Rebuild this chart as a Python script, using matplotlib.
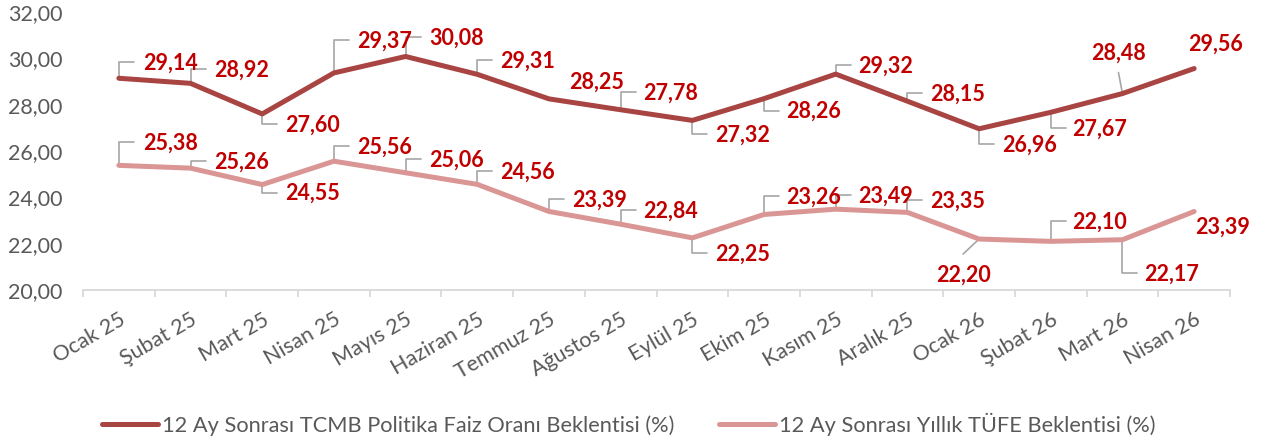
import matplotlib
matplotlib.use('Agg')
import matplotlib.pyplot as plt
from matplotlib.ticker import FuncFormatter, FixedLocator

# ---------------- data ----------------
categories = ["Ocak 25", "Şubat 25", "Mart 25", "Nisan 25", "Mayıs 25", "Haziran 25",
              "Temmuz 25", "Ağustos 25", "Eylül 25", "Ekim 25", "Kasım 25", "Aralık 25",
              "Ocak 26", "Şubat 26", "Mart 26", "Nisan 26"]
tcmb = [29.14, 28.92, 27.60, 29.37, 30.08, 29.31, 28.25, 27.78, 27.32, 28.26, 29.32,
        28.15, 26.96, 27.67, 28.48, 29.56]
tufe = [25.38, 25.26, 24.55, 25.56, 25.06, 24.56, 23.39, 22.84, 22.25, 23.26, 23.49,
        23.35, 22.20, 22.10, 22.17, 23.39]
series_names = ["12 Ay Sonrası TCMB Politika Faiz Oranı Beklentisi (%)",
                "12 Ay Sonrası Yıllık TÜFE Beklentisi (%)"]
y_ticks = [20, 22, 24, 26, 28, 30, 32]

# label placement (pixels: dx right, dy down from the point) and leader style
tcmb_labels = [(52, -16, 'up'), (51, -14, 'up'), (50, 10, 'down'), (51, -33, 'up'),
               (51, -19, 'up'), (50, -14, 'up'), (48, -18, 'none'), (50, -18, 'up'),
               (50, 14, 'down'), (50, 12, 'down'), (50, -9, 'up'), (50, -8, 'up'),
               (50, 15, 'down'), (49, 16, 'down'), (-4, -41, 'slant'), (21, -25, 'none')]
tufe_labels = [(52, -23, 'up'), (51, -7, 'up'), (50, 8, 'down'), (51, -15, 'up'),
               (51, -14, 'up'), (50, -13, 'up'), (51, -12, 'up'), (50, -14, 'up'),
               (50, 15, 'down'), (50, -18, 'up'), (50, -14, 'up'), (50, -12, 'up'),
               (-16, 35, 'slant'), (49, -20, 'up'), (49, 33, 'down'), (28, 15, 'none')]

# ---------------- style ----------------
W, H = 1269, 443
C_TCMB = '#A84442'
C_TUFE = '#D99694'
C_LABEL = '#C00000'
C_LEADER = '#A6A6A6'
C_TEXT = '#595959'
C_AXIS = '#D9D9D9'
FONT = 'Lato'

plt.rcParams['font.family'] = [FONT, 'DejaVu Sans']

fig = plt.figure(figsize=(W / 100, H / 100), dpi=100)
ax = fig.add_axes([83 / W, (H - 290) / H, (1230 - 83) / W, (290 - 12) / H])

x = list(range(len(categories)))
l1, = ax.plot(x, tcmb, color=C_TCMB, lw=3.6, solid_capstyle='round',
              solid_joinstyle='round', label=series_names[0], zorder=3)
l2, = ax.plot(x, tufe, color=C_TUFE, lw=3.6, solid_capstyle='round',
              solid_joinstyle='round', label=series_names[1], zorder=3)

ax.set_xlim(-0.5, len(categories) - 0.5)
ax.set_ylim(20, 32)

for s in ['top', 'right', 'left']:
    ax.spines[s].set_visible(False)
ax.spines['bottom'].set_color(C_AXIS)
ax.spines['bottom'].set_linewidth(1.3)

ax.yaxis.set_major_locator(FixedLocator(y_ticks))
ax.yaxis.set_major_formatter(FuncFormatter(lambda v, p: f"{v:.2f}".replace('.', ',')))
ax.tick_params(axis='y', length=0, pad=15, labelsize=15.5, labelcolor=C_TEXT)

ax.set_xticks(x)
ax.set_xticklabels(categories, rotation=30, ha='right', va='top',
                   rotation_mode='anchor')
ax.set_xticks([i - 0.5 for i in range(len(categories) + 1)], minor=True)
ax.tick_params(axis='x', which='major', length=0, pad=14, labelsize=15.5,
               labelcolor=C_TEXT)
ax.tick_params(axis='x', which='minor', length=5, width=1.3, color=C_AXIS,
               direction='out')


def fmt(v):
    return f"{v:.2f}".replace('.', ',')


def add_labels(vals, specs):
    for i, (v, (dx, dy, kind)) in enumerate(zip(vals, specs)):
        if kind in ('up', 'down'):
            ax.annotate('', xy=(i, v), xytext=(15, -dy), textcoords='offset pixels',
                        arrowprops=dict(arrowstyle='-', color=C_LEADER, lw=1.2,
                                        shrinkA=0, shrinkB=0,
                                        connectionstyle='angle,angleA=0,angleB=90,rad=0'),
                        zorder=2)
        elif kind == 'slant':
            ey = dy - 20 if dy > 0 else dy + 20
            ax.annotate('', xy=(i, v), xytext=(dx, -ey), textcoords='offset pixels',
                        arrowprops=dict(arrowstyle='-', color=C_LEADER, lw=1.2,
                                        shrinkA=0, shrinkB=0), zorder=2)
        ax.annotate(fmt(v), xy=(i, v), xytext=(dx, -(dy + 7.5)),
                    textcoords='offset pixels', ha='center', va='baseline',
                    fontsize=15.5, fontweight='bold', color=C_LABEL, zorder=4)


add_labels(tcmb, tcmb_labels)
add_labels(tufe, tufe_labels)

fig.legend(handles=[l1, l2], loc='center', bbox_to_anchor=(629 / W, 19 / H), ncol=2,
           frameon=False, fontsize=15.7, handlelength=2.55, handletextpad=0.2,
           columnspacing=2.05, labelcolor=C_TEXT)

fig.savefig('out.png', dpi=100)
